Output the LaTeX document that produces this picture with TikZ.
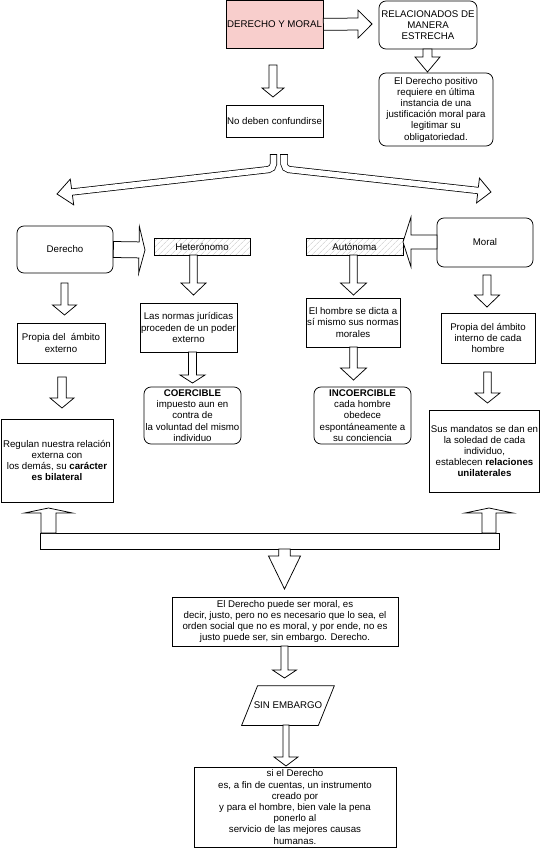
\documentclass[tikz,border=0pt]{standalone}
\usepackage{fontspec}
\setmainfont{Liberation Sans}
\usetikzlibrary{calc,patterns.meta}
\definecolor{pinkfill}{HTML}{F8CECC}
% straight block arrow: #1 start, #2 tip, #3 shaft half width, #4 head half width, #5 head length
\newcommand\flexarr[5]{%
  \path ($(#2)!#5!(#1)$) coordinate (fabase);
  \draw[arrowline] ($(#1)!#3!90:(#2)$) -- ($(fabase)!#3!90:(#2)$) -- ($(fabase)!#4!90:(#2)$) -- (#2)
     -- ($(fabase)!#4!-90:(#2)$) -- ($(fabase)!#3!-90:(#2)$) -- ($(#1)!#3!-90:(#2)$) -- cycle;}
% head only (open towards the shaft): #1 base, #2 tip, #3 shaft half, #4 head half
\newcommand\flexhead[4]{%
  \draw[arrowline] ($(#1)!#3!90:(#2)$) -- ($(#1)!#4!90:(#2)$) -- (#2) -- ($(#1)!#4!-90:(#2)$) -- ($(#1)!#3!-90:(#2)$);}
% box by corners: [style]{name}{x1}{y1}{x2}{y2}{text}
\newcommand\bx[7][base]{\node[#1, minimum width={(#5-#3)*1pt}, minimum height={(#6-#4)*1pt}] (#2) at ({(#3+#5)/2},{(#4+#6)/2}) {#7};}
\begin{document}
\begin{tikzpicture}[x=1pt,y=-1pt, line width=0.75pt,
  font=\fontsize{9.7}{11.2}\selectfont,
  base/.style={draw=black, fill=white, align=center, inner sep=1pt},
  rbox/.style={base, rounded corners=7pt},
  hbox/.style={draw=black, pattern={Lines[angle=45,distance=4pt,line width=0.5pt]}, pattern color=black!22, align=center, inner sep=1pt},
  arrowline/.style={draw=black, fill=white, line width=0.75pt, line join=miter},
  dblshaft/.style={draw=black, double=white, double distance=5.6pt, line width=0.75pt, rounded corners=5pt}]
\useasboundingbox (0,0) rectangle (548,848);

% ---------- nodes ----------
\bx[base, fill=pinkfill]{dm}{226}{0.5}{323}{48}{DERECHO Y MORAL}
\bx[rbox]{rel}{379}{1}{477}{49}{RELACIONADOS DE\\MANERA\\ESTRECHA}
\bx[rbox]{pos}{379}{73}{493}{146}{El Derecho positivo\\requiere en última\\instancia de una\\justificación moral para\\legitimar su\\obligatoriedad.}
\bx{nodeb}{226}{105}{323}{137}{No deben confundirse}
\bx[rbox]{der}{17}{226}{113}{273}{Derecho}
\bx[hbox]{het}{154}{238}{250}{255}{Heterónomo}
\bx[hbox]{aut}{306}{238}{403}{255}{Autónoma}
\bx[rbox]{mor}{437}{218}{533}{267}{Moral}
\bx{pe}{17}{323}{105}{363}{Propia del~ ámbito\\externo}
\bx{ln}{144}{303}{233}{352}{Las normas jurídicas\\proceden de un poder\\externo}
\bx{eh}{306}{298}{400}{347}{El hombre se dicta a\\sí mismo sus normas\\morales}
\bx{pi}{441}{313}{535}{363}{Propia del ámbito\\interno de cada\\hombre}
\bx[rbox]{coe}{144}{387}{241}{444}{\textbf{COERCIBLE}\\impuesto aun en\\contra de\\la voluntad del mismo\\individuo}
\bx[rbox]{inc}{314}{387}{411}{444}{\textbf{INCOERCIBLE}\\cada hombre\\obedece\\espontáneamente a\\su conciencia}
\bx{reg}{1}{419}{113}{502}{Regulan nuestra relación\\externa con\\los demás, su \textbf{carácter}\\\textbf{es bilateral}}
\bx{sus}{433}{410}{536}{492}{Sus mandatos se dan en\\la soledad de cada\\individuo,\\establecen \textbf{relaciones}\\\textbf{unilaterales}}
\bx{edp}{172}{597}{398}{646}{El Derecho puede ser moral, es\\decir, justo, pero no es necesario que lo sea, el\\orden social que no es moral, y por ende, no es\\justo puede ser, sin embargo. Derecho.}
\node[inner sep=0, minimum width=92pt, minimum height=39pt] (sin) at (288,705.5) {SIN EMBARGO};
\draw ($(sin.north west)+(16,0)$) -- (sin.north east) -- ($(sin.south east)+(-16,0)$) -- (sin.south west) -- cycle;
\bx{sid}{194}{767}{396}{847}{si el Derecho\\es, a fin de cuentas, un instrumento\\creado por\\y para el hombre, bien vale la pena\\ponerlo al\\servicio de las mejores causas\\humanas.}

% ---------- block arrows ----------
\coordinate (a1t) at (372,24);
\flexarr{dm.east}{a1t}{6pt}{14pt}{14pt}
\coordinate (a2s) at (427.5,49); \coordinate (a2t) at (427.5,72);
\flexarr{a2s}{a2t}{4.5pt}{12.5pt}{15pt}
\coordinate (a3s) at (273,65); \coordinate (a3t) at (273,97);
\flexarr{a3s}{a3t}{4pt}{11pt}{9pt}

% fork from "No deben confundirse"
\coordinate (fl0) at (273.5,154); \coordinate (fl1) at (273.5,169);
\coordinate (flb) at (72,192); \coordinate (flt) at (57,194);
\draw[dblshaft] (fl0) -- (fl1) -- (flb);
\draw ($(fl0)+(-3.6,0)$) -- ($(fl0)+(3.6,0)$);
\flexhead{flb}{flt}{3.2pt}{13pt}
\coordinate (fr0) at (284,154); \coordinate (fr1) at (284,169);
\coordinate (frb) at (478,190.5); \coordinate (frt) at (491,192);
\draw[dblshaft] (fr0) -- (fr1) -- (frb);
\draw ($(fr0)+(-3.6,0)$) -- ($(fr0)+(3.6,0)$);
\flexhead{frb}{frt}{3.2pt}{12.5pt}

\coordinate (a6t) at (145,250);
\flexarr{der.east}{a6t}{8pt}{23.5pt}{6pt}
\coordinate (a7s) at (437,242); \coordinate (a7t) at (403,242);
\flexarr{a7s}{a7t}{7pt}{25pt}{8pt}

\coordinate (a8s) at (193.5,255); \coordinate (a8t) at (193.5,295);
\flexarr{a8s}{a8t}{3.7pt}{12.5pt}{12pt}
\coordinate (a9s) at (192.5,352); \coordinate (a9t) at (192.5,383);
\flexarr{a9s}{a9t}{4pt}{12.5pt}{8pt}
\coordinate (a10s) at (353.5,255); \coordinate (a10t) at (353.5,295);
\flexarr{a10s}{a10t}{3.7pt}{13pt}{12pt}
\coordinate (a11s) at (353.5,347); \coordinate (a11t) at (353.5,380);
\flexarr{a11s}{a11t}{3.7pt}{13pt}{12pt}
\coordinate (a12s) at (64.5,283); \coordinate (a12t) at (64.5,315);
\flexarr{a12s}{a12t}{3.5pt}{12pt}{10pt}
\coordinate (a13s) at (62,377); \coordinate (a13t) at (62,408);
\flexarr{a13s}{a13t}{4.2pt}{12pt}{10pt}
\coordinate (a14s) at (487,275); \coordinate (a14t) at (487,307);
\flexarr{a14s}{a14t}{4pt}{12.5pt}{12pt}
\coordinate (a15s) at (487.5,372); \coordinate (a15t) at (487.5,403);
\flexarr{a15s}{a15t}{3.7pt}{12.5pt}{10pt}

% bottom bar
\bx{bar}{40}{533}{499}{549}{}
\coordinate (a16s) at (48.5,533); \coordinate (a16t) at (48.5,508);
\flexarr{a16s}{a16t}{7.5pt}{24pt}{5pt}
\coordinate (a17s) at (489,533); \coordinate (a17t) at (489,508);
\flexarr{a17s}{a17t}{7pt}{24pt}{5pt}
\coordinate (a18s) at (284.5,549); \coordinate (a18t) at (284.5,589);
\flexarr{a18s}{a18t}{5.7pt}{16pt}{33pt}
\coordinate (a19s) at (284.5,646); \coordinate (a19t) at (284.5,678);
\flexarr{a19s}{a19t}{3.5pt}{12pt}{8pt}
\coordinate (a20s) at (286,725); \coordinate (a20t) at (286,766);
\flexarr{a20s}{a20t}{3pt}{12pt}{9pt}
\end{tikzpicture}
\end{document}
